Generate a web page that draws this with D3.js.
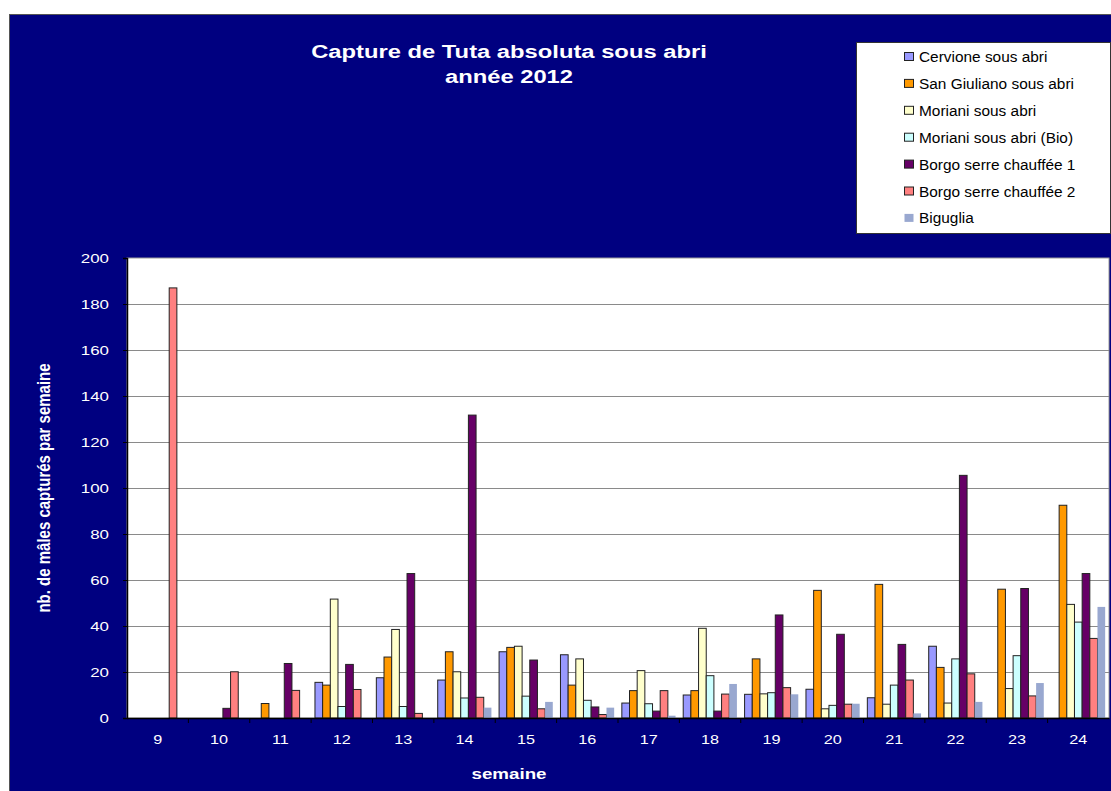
<!DOCTYPE html>
<html>
<head>
<meta charset="utf-8">
<script src="https://cdn.jsdelivr.net/npm/d3@7"></script>
<style>
  body { margin: 0; background: #fff; }
  svg { display: block; font-family: "Liberation Sans", Arial, sans-serif; }
</style>
</head>
<body>
<svg id="chart" width="1111" height="791"></svg>
<script>
// weeks on the x axis
const weeks = ["9", "10", "11", "12", "13", "14", "15", "16", "17", "18", "19", "20", "21", "22", "23", "24"];

const seriesNames = [
  "Cervione sous abri",
  "San Giuliano sous abri",
  "Moriani sous abri",
  "Moriani sous abri (Bio)",
  "Borgo serre chauffée 1",
  "Borgo serre chauffée 2",
  "Biguglia"
];

// values, one per week
const cervione    = [0, 0, 0, 15.5, 17.5, 16.5, 28.8, 27.5, 6.5, 10, 10.3, 12.5, 8.8, 31.2, 0, 0];
const sanGiuliano = [0, 0, 6.3, 14.3, 26.5, 28.8, 30.7, 14.3, 11.9, 11.9, 25.7, 55.5, 58.1, 22, 56, 92.5];
const moriani     = [0, 0, 0, 51.7, 38.5, 20.1, 31.2, 25.7, 20.6, 39, 10.5, 4, 6, 6.5, 12.8, 49.4];
const morianiBio  = [0, 0, 0, 5, 5, 8.7, 9.5, 7.7, 6.2, 18.4, 11, 5.5, 14.3, 25.7, 27.1, 41.7];
const borgo1      = [0, 4.2, 23.7, 23.3, 62.8, 131.7, 25.2, 4.8, 3, 3, 44.8, 36.4, 32, 105.5, 56.3, 62.8];
const borgo2      = [187, 20.1, 12, 12.4, 2, 9, 4, 1.5, 11.9, 10.4, 13.2, 6, 16.5, 19.2, 9.6, 34.6];
const biguglia    = [0, 0, 0, 0, 0, 4.5, 7, 4.5, 1, 14.8, 10.3, 6.2, 2, 7, 15.2, 48.3];

const seriesValues = [cervione, sanGiuliano, moriani, morianiBio, borgo1, borgo2, biguglia];
const colors = ["#9999FF", "#FF9900", "#FFFFCC", "#CCFFFF", "#660066", "#FF8080", "#99A8D0"];
const yTicks = [0, 20, 40, 60, 80, 100, 120, 140, 160, 180, 200];

const svg = d3.select("#chart");

// the original picture is stretched sideways, so widen the text to match
function stretch(sel, k) {
  sel.each(function () {
    const w = this.getComputedTextLength();
    d3.select(this).attr("textLength", w * k).attr("lengthAdjust", "spacingAndGlyphs");
  });
}

// navy chart area
svg.append("rect")
  .attr("x", 9.5).attr("y", 14.5)
  .attr("width", 1110).attr("height", 790)
  .attr("fill", "#000080")
  .attr("stroke", "#555");

const plot = { left: 127, top: 258, right: 1109, bottom: 718 };

const x = d3.scaleBand()
  .domain(weeks)
  .range([plot.left, plot.right]);

// 7 bars per week plus one bar-width of gap
const xs = d3.scaleBand()
  .domain(d3.range(seriesNames.length))
  .range([0, x.bandwidth()])
  .paddingOuter(0.5);

const y = d3.scaleLinear()
  .domain([0, 200])
  .range([plot.bottom, plot.top]);

// plot background
svg.append("rect")
  .attr("x", plot.left).attr("y", plot.top)
  .attr("width", plot.right - plot.left).attr("height", plot.bottom - plot.top)
  .attr("fill", "#fff")
  .attr("stroke", "#999");

// gridlines
svg.append("g")
  .selectAll("line")
  .data(yTicks.filter(d => d > 0 && d < 200))
  .join("line")
  .attr("x1", plot.left).attr("x2", plot.right)
  .attr("y1", d => Math.round(y(d)) + 0.5).attr("y2", d => Math.round(y(d)) + 0.5)
  .attr("stroke", "#8a8a8a");

// bars
const groups = svg.append("g")
  .selectAll("g")
  .data(seriesValues)
  .join("g")
  .attr("fill", (d, i) => colors[i]);

groups.each(function (vals, si) {
  d3.select(this).selectAll("rect")
    .data(vals.map((v, wi) => ({ v, week: weeks[wi] })).filter(d => d.v > 0))
    .join("rect")
    .attr("x", d => x(d.week) + xs(si))
    .attr("y", d => y(d.v))
    .attr("width", xs.bandwidth())
    .attr("height", d => y(0) - y(d.v))
    .attr("stroke", si === 6 ? "none" : "#222")
    .attr("stroke-width", 1);
});

// y axis
const yAxis = svg.append("g")
  .attr("transform", `translate(${plot.left},0)`)
  .call(d3.axisLeft(y).tickValues(yTicks).tickSize(4).tickPadding(14));
yAxis.select(".domain").attr("stroke", "#000").attr("stroke-width", 1.5);
yAxis.selectAll(".tick line").attr("stroke", "#000");
yAxis.selectAll("text")
  .attr("fill", "#fff")
  .style("font-size", "13px")
  .style("font-family", "'Liberation Sans', Arial, sans-serif")
  .call(stretch, 1.3);

// x axis
const xAxis = svg.append("g")
  .attr("transform", `translate(0,${plot.bottom})`)
  .call(d3.axisBottom(x).tickSize(0).tickPadding(16));
xAxis.select(".domain").attr("stroke", "#000").attr("stroke-width", 1.5);
xAxis.selectAll("text")
  .attr("fill", "#fff")
  .style("font-size", "13.5px")
  .style("font-family", "'Liberation Sans', Arial, sans-serif")
  .call(stretch, 1.2);

// tick marks between categories
svg.append("g")
  .selectAll("line")
  .data(weeks.slice(1))
  .join("line")
  .attr("x1", d => x(d)).attr("x2", d => x(d))
  .attr("y1", plot.bottom).attr("y2", plot.bottom + 5)
  .attr("stroke", "#000");

// axis titles
svg.append("text")
  .attr("x", 509).attr("y", 779)
  .attr("text-anchor", "middle")
  .attr("fill", "#fff")
  .style("font-size", "15px")
  .style("font-weight", "bold")
  .text("semaine")
  .call(stretch, 1.25);

svg.append("text")
  .attr("transform", "translate(50,488) rotate(-90) scale(1,1.25)")
  .attr("text-anchor", "middle")
  .attr("fill", "#fff")
  .style("font-size", "15px")
  .style("font-weight", "bold")
  .text("nb. de mâles capturés par semaine");

// title
svg.selectAll("text.title")
  .data(["Capture de Tuta absoluta sous abri", "année 2012"])
  .join("text")
  .attr("class", "title")
  .attr("x", 509)
  .attr("y", (d, i) => 58 + i * 24.5)
  .attr("text-anchor", "middle")
  .attr("fill", "#fff")
  .style("font-size", "18px")
  .style("font-weight", "bold")
  .text(d => d)
  .call(stretch, 1.32);

// legend
const legend = svg.append("g");
legend.append("rect")
  .attr("x", 856.5).attr("y", 42.5)
  .attr("width", 254).attr("height", 191)
  .attr("fill", "#fff")
  .attr("stroke", "#333");

const items = legend.selectAll("g.item")
  .data(seriesNames)
  .join("g")
  .attr("class", "item")
  .attr("transform", (d, i) => `translate(904,${57 + i * 26.9})`);

items.append("rect")
  .attr("x", 0.5).attr("y", -4.5)
  .attr("width", 9).attr("height", 8)
  .attr("fill", (d, i) => colors[i])
  .attr("stroke", (d, i) => i === 6 ? "none" : "#222");

items.append("text")
  .attr("x", 15).attr("y", 5)
  .attr("fill", "#000")
  .style("font-size", "14px")
  .text(d => d)
  .call(stretch, 1.1);
</script>
</body>
</html>
